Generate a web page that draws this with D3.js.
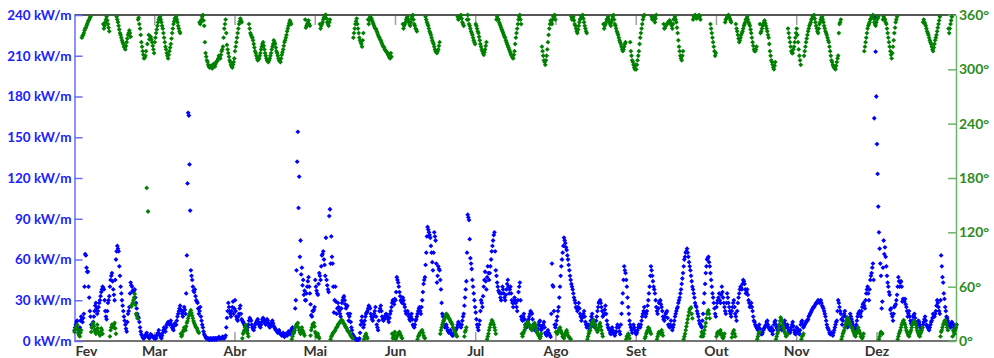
<!DOCTYPE html>
<html><head><meta charset="utf-8">
<script src="https://cdn.jsdelivr.net/npm/d3@7"></script>
<style>body{margin:0;background:#fff}svg{display:block}</style>
</head><body><svg id="c" width="994" height="358"></svg>
<script>
// Month labels (x axis), one per month, equally spaced
const months = ["Fev","Mar","Abr","Mai","Jun","Jul","Ago","Set","Out","Nov","Dez"];
const powerTicks = [0,30,60,90,120,150,180,210,240];
const dirTicks = [0,60,120,180,240,300,360];
const samplesPerMonth = 60; // readings at 00h/12h (A) and 06h/18h (B)

// Wave power (kW/m), readings at 00h and 12h, month by month
const powerA = [
// Fev
8,12,15,6,10,18,14,20,64,54, 51,32,18,10,14,22,28,20,25,30, 36,40,38,22,16,28,33,45,50,38,
30,60,70,66,48,35,26,18,12,7, 20,25,43,40,36,38,28,20,17,10, 5,3,2,4,6,3,2,5,4,3,
// Mar
3,2,5,8,4,2,6,10,7,12, 14,12,15,10,8,13,12,18,22,26, 22,18,25,20,63,168,130,52,45,37,
38,30,28,20,25,15,10,5,3,2, 2,1,2,1,2,2,1,2,3,2, 2,3,2,4,17,28,22,18,25,20,
// Abr
30,18,15,20,26,16,14,12,10,8, 12,17,15,10,8,12,14,16,12,10, 14,17,15,12,16,13,10,12,15,11,
9,8,6,8,5,4,6,3,5,4, 7,5,8,10,6,24,52,154,121,74, 54,45,37,30,40,47,35,19,22,23,
// Mai
45,37,34,50,45,63,66,56,76,41, 36,97,77,57,21,40,20,28,22,18, 28,32,30,24,26,15,20,10,5,3,
2,1,1,2,12,18,10,15,20,22, 26,24,18,15,20,25,12,8,22,26, 18,15,17,20,18,14,20,25,30,27,
// Jun
30,47,43,36,30,28,30,25,20,22, 18,15,20,12,10,15,18,22,25,20, 30,42,47,65,84,80,76,65,52,80,
74,43,55,52,38,20,15,10,12,8, 6,8,5,4,6,8,10,14,12,10, 15,20,32,44,93,89,61,53,40,30,
// Jul
21,12,8,15,30,25,40,51,38,55, 45,55,66,74,80,52,43,37,35,30, 40,35,30,38,45,35,40,30,25,32,
28,22,36,43,18,15,20,12,10,15, 18,22,20,12,8,10,6,12,15,8, 10,14,6,4,8,5,3,57,40,12,
// Ago
12,18,25,40,55,65,76,72,67,60, 52,45,40,35,30,25,22,28,20,15, 18,22,14,10,12,8,15,20,12,10,
15,22,28,30,25,18,20,26,15,10, 8,5,10,6,4,7,12,10,5,20, 35,55,50,40,25,15,10,6,12,8,
// Set
5,8,12,10,15,20,25,18,22,30, 40,55,48,40,35,25,20,28,30,25, 18,15,20,22,12,10,15,8,12,18,
22,25,30,35,42,50,60,65,68,62, 55,48,40,35,28,25,20,15,12,10, 20,35,50,60,62,55,45,35,28,20,
// Out
25,30,35,28,40,32,25,20,35,28, 22,18,25,30,20,15,28,35,40,38, 45,42,35,38,30,25,28,22,15,12,
10,8,12,6,5,8,10,12,15,10, 8,10,5,12,15,10,8,12,10,8, 12,15,10,12,8,6,10,14,8,5,
// Nov
10,8,5,12,15,10,12,14,15,18, 20,22,24,25,27,28,30,28,30,26, 24,20,15,10,8,5,6,4,8,12,
15,30,25,20,12,18,22,15,10,14, 20,16,12,8,10,15,20,22,18,25, 28,24,35,40,30,45,50,57,164,213,
// Dez
145,99,68,48,29,74,69,55,43,36, 23,20,15,25,27,34,47,40,44,29, 30,31,25,18,22,15,12,18,20,14,
10,15,12,8,10,14,18,12,10,8, 12,15,20,18,22,30,25,20,63,47, 35,25,18,15,12,10,14,12,8,10
];

// Wave power (kW/m), readings at 06h and 18h, month by month
const powerB = [
// Fev
10,14,9,8,15,16,17,40,63,51, 40,22,12,12,18,26,24,22,28,33, 38,39,30,18,22,30,40,48,44,34,
45,66,68,55,40,30,22,15,9,14, 22,35,41,37,37,32,24,18,14,7, 4,2,3,5,4,3,4,4,3,2,
// Mar
2,4,6,5,3,4,8,9,10,13, 13,14,12,9,11,12,15,20,24,23, 20,22,23,35,116,166,96,48,40,36,
33,29,24,22,18,12,7,4,2,2, 1,2,1,2,1,2,2,2,2,2, 3,2,3,10,22,25,20,22,29,24,
// Abr
22,16,18,24,20,15,13,11,9,10, 15,16,12,9,10,13,15,14,11,12, 16,16,13,14,15,11,11,14,13,10,
8,7,7,6,5,5,4,4,5,6, 6,7,9,8,8,30,132,98,62,49, 41,34,30,35,44,40,27,18,22,25,
// Mai
40,35,42,48,55,64,60,48,45,38, 92,57,62,40,30,29,24,25,20,24, 30,33,27,25,20,18,14,8,4,2,
1,1,1,6,15,14,12,18,21,24, 25,20,16,18,22,18,10,15,24,22, 16,16,19,19,16,17,22,28,29,31,
// Jun
36,45,40,33,29,32,27,22,21,20, 16,18,16,11,12,16,20,24,22,25, 36,45,56,77,82,78,70,58,65,77,
57,48,53,45,28,18,12,11,10,7, 7,6,4,5,7,9,12,13,11,12, 18,26,38,65,91,75,57,45,35,25,
// Jul
16,10,12,22,28,33,45,44,47,50, 50,60,70,78,66,48,40,36,32,35, 38,32,34,42,40,38,35,28,28,30,
25,30,40,30,16,18,16,11,12,16, 20,21,16,10,9,8,9,14,11,9, 12,10,5,6,6,4,20,41,22,10,
// Ago
15,22,32,48,60,70,74,69,63,56, 48,42,38,32,28,24,25,24,18,17, 20,18,12,11,10,12,18,16,11,12,
18,25,29,28,22,19,23,20,12,9, 6,8,8,5,6,10,11,7,12,28, 45,52,45,32,20,12,8,9,10,6,
// Set
6,10,11,12,18,22,21,20,26,35, 48,52,44,38,30,22,24,29,27,22, 16,18,21,17,11,12,11,10,15,20,
24,28,32,38,46,55,62,66,65,58, 52,44,38,32,26,22,18,13,11,15, 28,42,55,61,58,50,40,32,24,18,
// Out
28,32,30,34,36,28,22,28,32,25, 20,22,28,25,18,22,32,38,39,42, 44,38,36,34,28,26,25,18,14,11,
9,10,9,5,6,9,11,14,12,9, 9,7,8,14,12,9,10,11,9,10, 14,12,11,10,7,8,12,11,6,7,
// Nov
9,6,8,14,12,11,13,15,16,19, 21,23,25,26,28,29,29,29,28,25, 22,18,12,9,6,5,5,6,10,14,
22,28,22,16,15,20,18,12,12,17, 18,14,10,9,12,18,21,20,22,27, 26,30,38,35,38,48,54,45,238,180,
// Dez
123,80,57,24,54,64,62,48,40,34, 24,18,20,26,30,40,44,43,40,31, 29,27,22,20,18,13,15,19,17,12,
12,14,10,9,12,16,15,11,9,10, 14,17,19,20,26,28,22,30,55,43, 31,22,17,13,11,12,13,10,9,12
];

// Wave direction (degrees), readings at 00h and 12h, month by month
const directionA = [
// Fev
10,14,18,8,5,12, 337,340,345,348,352,355,358, 15,20,12,8,18,10,6,14, 8,345,352,358,350,342,
12,18,15,20,8, 355,348,340,335,330, 325,322,330,338,343,336, 40,45,52,30,25, 357,345,330,320,312,
315,169,143,333,336,330,322,
// Mar
330,340,348,355,358,352, 345,335,325,318,312,320,328, 340,350,356,358,352,345,340, 5,10,15,12,20,
25,30,34,28,22,18,15,12,9, 350,355,360,348, 318,310,305,302,304,301,306,303,308,310,315,312,
320,325,345,355,327,318,310,305,302,308,
// Abr
320,330,340,350,356,352, 8,12,18,10,5,345,338, 335,328,320,315,310,312,318,325,330,322,315,310,
308,312,318,325,332,328,320,315,310,308,316,322, 330,335,342,348,354,350, 5,10,15,18,20,12,8,15,
10,6,346,350,354,348, 12,18,20,
// Mai
10,5,8,3, 345,350,355,358,360,352,348,355, 5,8,10,12,15,18,20,22,23,20,18,15,12,10,8,5,3,
340,350,356,345,335,330,325,340, 5,8,3,350,358,
356,352,348,345,342,338,335,332,328,325,322,320,318,315,312,314,3,6,
// Jun
2,5,8,10,6,3, 345,350,355,358,352,348,356,360,350,345,342, 5,8,10,12,6,3,
355,350,345,340,335,330,325,320,318,322,330, 12,18,22,26,30,28,25,22,20,15,12,8,5,
355,358,360,352,348,10,15, 360,350,345,340,335,330,
// Jul
350,345,340,332,325,320,316,322,330, 5,12,18,23,20,15,8,
358,355,350,346,342,338,335,330,326,322,318,315,312,320,335,345,355,360,350,
5,10,15,20,21,18,14,12,16,20,15,10,6,3,8, 320,310,305,315,330,345,354,350,358,360,
// Ago
10,8,12,15,10,5,3,8,12,6,4,2, 355,358,350,345,340,348,355,358,360,352,345,340,
5,10,15,20,23,18,14,10,15,20,12,5, 345,350,355,358,352,348,355,360,350,345,340,
335,330,325,320,325,330,5,8,3,320,310,305,300,
// Set
300,310,320,335,345,355,360, 5,10,15,12,8,355,358, 352,360,5,10,8,12,6,
345,348,350,352,354,350,345,355,358,352,340,325,315,310,320, 5,12,20,28,35,37,25,
358,360,356,358,360,355,10,5, 12,20,30,34,25, 345,335,325,315,
// Out
5,10,8,12,6,3,8, 355,358,360,356,352,8,12,5,345,338,330, 335,340,345,350,355,358,352,348,
340,330,322,320,325,5,10, 340,345,350,354,348,342,335,320,310,305, 300,308,5,10,18,26,22,15,10,5,
8,340,330,320,318,325,335,
// Nov
345,330,315,305,5, 8,320,330,338,345,350,355,358,360,352,345, 340,350,355,358,352,345,340,335,330,320,310,
305,302,300,308,315,350,355, 5,10,15,20,26,22,18,15,12,8,5,10,15,10,5,3,8,
325,335,345,350,355,358,360,352,348,
// Dez
355,358,5,10,8, 358,355,350,340,330,320,312,325,340,352,358,
5,10,15,20,23,18,12,8,5,10,15,20,22,18,12,8,5,10,15,
355,350,345,340,335,330,325,320,328,335,342,350,358, 10,15,20,23,18,12,340,350,358, 12,8,15
];

// Wave direction (degrees), readings at 06h and 18h, month by month
const directionB = [
// Fev
12,16,13,6,9,335, 338,343,346,350,354,357,10, 18,16,10,13,14,8,10,12, 350,348,355,354,346,5,
15,16,18,14,358, 352,344,338,332,328, 324,326,334,340,340,38, 42,48,40,28,355, 350,338,325,316,313,
320,328,338,334,333,326,318,
// Mar
335,344,352,357,355,348, 340,330,322,315,316,324,334, 345,353,357,355,348,342,8, 7,12,14,16,22,
28,32,31,25,20,16,14,10,352, 352,358,354,330, 314,308,303,303,302,304,305,306,309,312,314,316,
322,335,350,340,322,314,308,303,305,312,
// Abr
325,335,345,353,354,3, 10,15,14,8,350,340,336, 332,324,318,312,311,315,322,328,326,318,312,309,
310,315,322,328,330,324,318,312,309,312,319,326, 332,338,345,351,352,2, 8,12,16,19,15,10,12,12,
8,355,348,352,350,6, 15,19,16,
// Mai
8,6,5,350, 348,352,357,360,356,350,352,2, 6,9,11,14,16,19,21,23,22,19,16,14,11,9,6,4,335,
345,353,350,340,332,328,332,2, 6,5,355,354,357,
354,350,346,344,340,336,333,330,326,324,321,319,316,313,318,8,5,10,
// Jun
3,6,9,8,4,350, 348,352,357,355,350,352,358,355,348,344,2, 6,9,11,9,4,358,
352,348,342,338,332,328,322,319,320,326,8, 15,20,24,28,29,26,24,21,18,14,10,6,358,
356,359,356,350,5,12,355, 355,348,342,338,332,328,
// Jul
348,342,336,328,322,318,319,326,2, 8,15,20,22,18,12,355,
356,352,348,344,340,336,332,328,324,320,316,313,316,328,340,350,358,355,8,
8,12,18,20,19,16,13,14,18,18,12,8,5,5,325, 315,308,310,322,338,350,352,355,359,355,
// Ago
9,10,14,12,8,4,6,10,9,5,3,358, 356,354,348,342,344,352,356,359,356,348,342,2,
8,12,18,22,20,16,12,12,18,16,8,350, 348,352,356,355,350,352,358,355,348,342,338,
332,328,322,322,328,2,6,6,330,315,308,302,305,
// Set
305,315,328,340,350,358,3, 8,12,14,10,358,356,355, 356,2,8,9,10,9,350,
346,349,351,353,352,348,350,356,355,346,332,320,312,315,2, 8,16,24,32,36,30,355,
359,358,357,359,358,5,8,8, 16,25,32,30,350, 340,330,320,318,
// Out
8,9,10,9,4,5,352, 356,359,358,354,4,10,8,350,342,334,332, 338,342,348,352,356,355,350,344,
335,326,320,322,2,8,350, 342,348,352,351,345,338,328,315,308,302, 304,2,8,14,22,24,18,12,8,6,
345,335,325,318,322,330,340,
// Nov
338,322,310,2,6, 315,325,334,342,348,352,356,359,356,348,342, 345,352,357,355,348,342,338,332,325,315,308,
303,301,304,312,340,352,2, 8,12,18,23,24,20,16,14,10,6,8,12,12,8,4,5,320,
330,340,348,352,356,359,356,350,352,
// Dez
356,2,8,9,355, 356,352,345,335,325,316,318,332,346,355,2,
8,12,18,22,20,15,10,6,8,12,18,21,20,15,10,6,8,12,352,
352,348,342,338,332,328,322,324,332,338,346,354,5, 12,18,22,20,15,345,345,354,5, 10,12,18
];

const svg = d3.select("#c");
const X0 = 74.5, X1 = 956, Y0 = 341, Y1 = 15;
const x = d3.scaleLinear().domain([0, 10.985]).range([X0, X1]);
const yL = d3.scaleLinear().domain([0, 240]).range([Y0, Y1]);
const yR = d3.scaleLinear().domain([0, 360]).range([Y0, Y1]);
const FONT = "Lato, 'Open Sans', sans-serif";
const BLUE = "#0000ff", GREEN = "#008000";

// month tick marks (top and bottom)
const mIdx = d3.range(months.length);
svg.append("g").selectAll("line").data(mIdx.slice(1)).join("line")
  .attr("x1", d => x(d)).attr("x2", d => x(d)).attr("y1", Y1).attr("y2", Y1 + 10)
  .attr("stroke", "#a0a0a0").attr("stroke-width", 1.5);
svg.append("g").selectAll("line").data(mIdx.slice(1)).join("line")
  .attr("x1", d => x(d)).attr("x2", d => x(d)).attr("y1", Y0).attr("y2", Y0 - 9)
  .attr("stroke", "#a0a0a0").attr("stroke-width", 1.5);

// month labels (first one nudged right so it clears the "0 kW/m" label)
svg.append("g").selectAll("text").data(months).join("text")
  .attr("x", (d, i) => i === 0 ? X0 + 1 : x(i)).attr("y", 356)
  .attr("text-anchor", (d, i) => i === 0 ? "start" : "middle")
  .attr("font-family", FONT).attr("font-weight", 700).attr("font-size", 14)
  .attr("fill", "#333").text(d => d);

// frame top and bottom
svg.append("line").attr("x1", X0).attr("x2", X1).attr("y1", Y1).attr("y2", Y1)
  .attr("stroke", "#555").attr("stroke-width", 2);
svg.append("line").attr("x1", X0).attr("x2", X1).attr("y1", Y0).attr("y2", Y0)
  .attr("stroke", "#444").attr("stroke-width", 1.5);

// left axis
const gL = svg.append("g").attr("transform", `translate(${X0},0)`)
  .call(d3.axisLeft(yL).tickValues(powerTicks).tickSizeInner(-8).tickSizeOuter(0).tickPadding(3)
    .tickFormat(d => d + " kW/m"));
gL.select(".domain").attr("stroke", "#6a6aff").attr("stroke-width", 1.5);
gL.selectAll(".tick line").attr("stroke", "#6a6aff").attr("stroke-width", 1.5);
gL.selectAll(".tick text").attr("fill", "#2020ff").attr("font-family", FONT)
  .attr("font-weight", 700).attr("font-size", 13.5);

// right axis
const gR = svg.append("g").attr("transform", `translate(${X1},0)`)
  .call(d3.axisRight(yR).tickValues(dirTicks).tickSizeInner(-8).tickSizeOuter(0).tickPadding(3)
    .tickFormat(d => d + "°"));
gR.select(".domain").attr("stroke", "#6ab46a").attr("stroke-width", 1.5);
gR.selectAll(".tick line").attr("stroke", "#6ab46a").attr("stroke-width", 1.5);
gR.selectAll(".tick text").attr("fill", "#2e8b1e").attr("font-family", FONT)
  .attr("font-weight", 700).attr("font-size", 14);

// markers: A readings at i/60 month, B readings half a step later
const mark = "M0,-2.4L2.4,0L0,2.4L-2.4,0Z";
const toPts = (a, off) => a.map((v, i) => [(i + off) / samplesPerMonth, v]);
const powerPts = toPts(powerA, 0).concat(toPts(powerB, 0.5));
const dirPts = toPts(directionA, 0).concat(toPts(directionB, 0.5));

svg.append("g").selectAll("path").data(powerPts).join("path")
  .attr("d", mark).attr("fill", BLUE)
  .attr("transform", d => `translate(${x(d[0])},${yL(d[1])})`);
svg.append("g").selectAll("path").data(dirPts).join("path")
  .attr("d", mark).attr("fill", GREEN)
  .attr("transform", d => `translate(${x(d[0])},${yR(d[1])})`);
</script>
</body></html>
